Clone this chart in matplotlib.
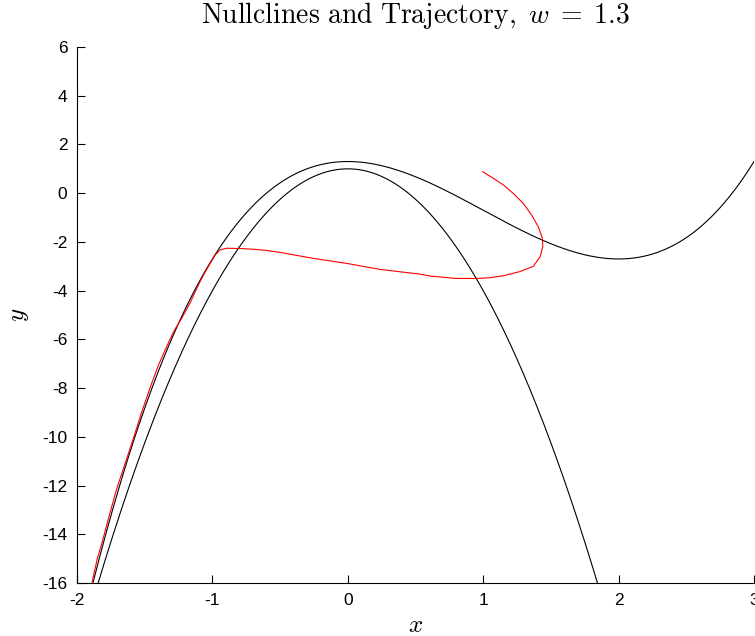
import numpy as np
import matplotlib
matplotlib.use("Agg")
import matplotlib.pyplot as plt

plt.rcParams['mathtext.fontset'] = 'cm'
plt.rcParams['axes.unicode_minus'] = False
plt.rcParams['font.family'] = ['Liberation Sans', 'DejaVu Sans']

# Model parameter and nullcline polynomial coefficients (highest power first)
w = 1.3
x_nullcline_coeffs = [1.0, -3.0, 0.0, w]   # y = x^3 - 3x^2 + w
y_nullcline_coeffs = [-5.0, 0.0, 1.0]      # y = 1 - 5x^2

# Trajectory samples (x, y)
traj_x = [0.996, 1.075, 1.148, 1.222, 1.296, 1.358, 1.407, 1.437, 1.44,
          1.42, 1.37, 1.27, 1.148, 1.05, 0.95, 0.80, 0.607, 0.53, 0.24,
          -0.01, -0.25, -0.50, -0.60, -0.70, -0.80, -0.894, -0.944, -0.98,
          -1.018, -1.055, -1.09, -1.13, -1.166, -1.228, -1.28, -1.34, -1.40,
          -1.46, -1.52, -1.58, -1.645, -1.71, -1.76, -1.81, -1.85, -1.88,
          -1.90]
traj_y = [0.88, 0.61, 0.34, -0.01, -0.42, -0.90, -1.38, -1.85, -2.20,
          -2.61, -3.00, -3.22, -3.39, -3.47, -3.50, -3.50, -3.40, -3.32, -3.13,
          -2.88, -2.68, -2.43, -2.35, -2.30, -2.27, -2.26, -2.33, -2.54,
          -2.90, -3.25, -3.62, -4.08, -4.52, -5.15, -5.62, -6.32, -7.08,
          -7.98, -8.95, -10.0, -11.1, -12.19, -13.2, -14.24, -15.0, -15.74,
          -16.3]

x_ticks = [-2, -1, 0, 1, 2, 3]
y_ticks = [6, 4, 2, 0, -2, -4, -6, -8, -10, -12, -14, -16]

fig = plt.figure(figsize=(7.55, 6.36), dpi=100)
ax = fig.add_axes([77 / 755, 53 / 636, 677 / 755, 536 / 636])

xs = np.linspace(-2, 3, 600)
ax.plot(xs, np.polyval(x_nullcline_coeffs, xs), color='black', lw=0.8)
ax.plot(xs, np.polyval(y_nullcline_coeffs, xs), color='black', lw=0.8)
ax.plot(traj_x, traj_y, color='red', lw=0.8)

ax.set_xlim(-2, 3)
ax.set_ylim(-16, 6)
ax.set_xticks(x_ticks)
ax.set_yticks(y_ticks)
ax.tick_params(direction='in', length=6, width=0.8, labelsize=12.5,
               pad=7, colors='black')
for side in ('top', 'right'):
    ax.spines[side].set_visible(False)
for side in ('left', 'bottom'):
    ax.spines[side].set_linewidth(0.8)

ax.set_title(r'$\mathrm{Nullclines\ and\ Trajectory,}\ w\;=\;1.3$',
             fontsize=20, pad=17)
ax.set_xlabel(r'$x$', fontsize=18, labelpad=4)
ax.set_ylabel(r'$y$', fontsize=18, labelpad=8)

fig.savefig('out.png', dpi=100)
